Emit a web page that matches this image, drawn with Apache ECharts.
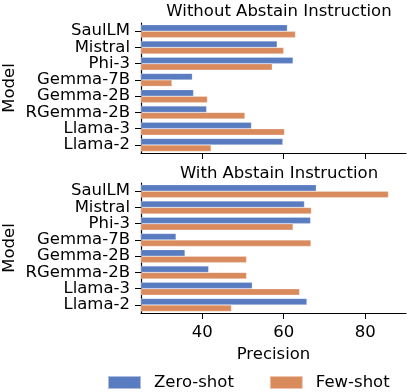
<!DOCTYPE html>
<html lang="en">
<head>
    <meta charset="UTF-8">
    <title>Precision by model</title>
</head>
<body style="margin:0">
    <div id="chart" style="width: 408px;height:392px;"></div>
</body>
<script type="text/javascript" src="https://cdn.jsdelivr.net/npm/echarts@6/dist/echarts.min.js"></script>
<script type="text/javascript">
    var models = ['SaulLM', 'Mistral', 'Phi-3', 'Gemma-7B', 'Gemma-2B', 'RGemma-2B', 'Llama-3', 'Llama-2'];
    var xTicks = [40, 60, 80];

    // without abstain instruction
    var zeroShotNoAbstain = [60.9, 58.4, 62.3, 37.6, 37.9, 41.1, 52.1, 59.8];
    var fewShotNoAbstain = [62.9, 60.0, 57.2, 32.6, 41.3, 50.5, 60.2, 42.2];
    // with abstain instruction
    var zeroShotAbstain = [68.0, 65.1, 66.6, 33.6, 35.8, 41.6, 52.3, 65.7];
    var fewShotAbstain = [85.7, 66.8, 62.3, 66.7, 50.9, 50.9, 63.9, 47.2];

    var font = 'DejaVu Sans';
    var fs = 16.5;
    var blue = '#597bbf', orange = '#d98b5e';

    var chart = echarts.init(document.getElementById('chart'));

    function xAxis(idx, withLabels) {
        return {
            type: 'value', gridIndex: idx, min: 25, max: 90,
            splitLine: { show: false },
            axisLine: { show: true, lineStyle: { color: '#000', width: 1.2 } },
            axisTick: { show: true, length: 6, customValues: xTicks, lineStyle: { color: '#000' } },
            axisLabel: { show: withLabels, customValues: xTicks, fontSize: fs, fontFamily: font, color: '#000', margin: 11 },
            name: withLabels ? 'Precision' : '',
            nameLocation: 'middle', nameGap: 33, nameMoveOverlap: false,
            nameTextStyle: { fontSize: fs, fontFamily: font, color: '#000' }
        };
    }
    function yAxis(idx) {
        return {
            type: 'category', gridIndex: idx, data: models, inverse: true,
            axisLine: { show: true, lineStyle: { color: '#000', width: 1.2 } },
            axisTick: { show: true, alignWithLabel: true, length: 6, lineStyle: { color: '#000' } },
            axisLabel: { interval: 0, fontSize: fs, fontFamily: font, color: '#000', margin: 11, lineHeight: 16 },
            name: 'Model', nameLocation: 'middle', nameGap: 123, nameRotate: 90, nameMoveOverlap: false,
            nameTextStyle: { fontSize: fs, fontFamily: font, color: '#000' }
        };
    }
    function bars(name, data, idx, color) {
        return {
            name: name, type: 'bar', data: data, xAxisIndex: idx, yAxisIndex: idx,
            barCategoryGap: '20%', barGap: '0%',
            itemStyle: { color: color, borderColor: 'rgba(255,255,255,0.5)', borderWidth: 0.5 }
        };
    }

    var option = {
        animation: false,
        title: [
            { text: 'Without Abstain Instruction', left: 274, top: -2, textAlign: 'center',
              textStyle: { fontSize: fs, fontWeight: 'normal', fontFamily: font, color: '#000' } },
            { text: 'With Abstain Instruction', left: 274, top: 160, textAlign: 'center',
              textStyle: { fontSize: fs, fontWeight: 'normal', fontFamily: font, color: '#000' } }
        ],
        legend: {
            left: 107, top: 374, padding: 0, itemWidth: 33, itemHeight: 13, itemGap: 35,
            icon: 'rect',
            textStyle: { fontSize: fs, fontFamily: font, color: '#000', lineHeight: 16, padding: [0, 0, 0, 8] },
            data: ['Zero-shot', 'Few-shot']
        },
        grid: [
            { left: 141, right: 2, top: 23, height: 130, outerBoundsMode: 'none' },
            { left: 141, right: 2, top: 183, height: 130, outerBoundsMode: 'none' }
        ],
        xAxis: [xAxis(0, false), xAxis(1, true)],
        yAxis: [yAxis(0), yAxis(1)],
        series: [
            bars('Zero-shot', zeroShotNoAbstain, 0, blue),
            bars('Few-shot', fewShotNoAbstain, 0, orange),
            bars('Zero-shot', zeroShotAbstain, 1, blue),
            bars('Few-shot', fewShotAbstain, 1, orange)
        ]
    };

    chart.setOption(option);
</script>
</html>
